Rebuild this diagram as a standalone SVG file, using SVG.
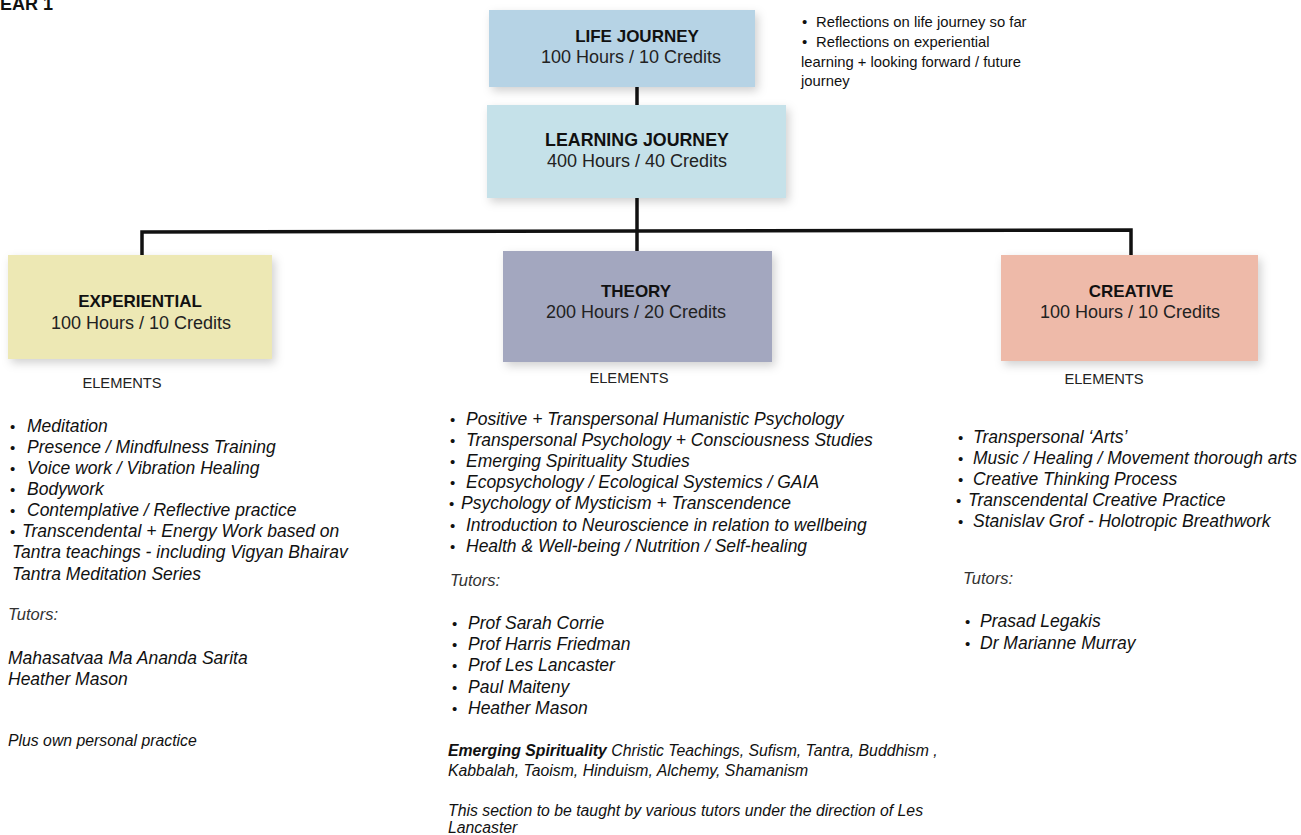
<svg xmlns="http://www.w3.org/2000/svg" width="1301" height="835" viewBox="0 0 1301 835">
<defs>
<filter id="sh" x="-10%" y="-20%" width="125%" height="150%">
<feDropShadow dx="3" dy="4" stdDeviation="5" flood-color="#000" flood-opacity="0.18"/>
</filter>
<style>
.box{filter:url(#sh)}
.h{font-family:"Liberation Sans",Arial,sans-serif;font-weight:bold;font-size:17px;fill:#111;text-anchor:middle}
.s{font-family:"Liberation Sans",Arial,sans-serif;font-size:18px;fill:#222;text-anchor:middle}
.el{font-family:"Liberation Sans",Arial,sans-serif;font-size:14.7px;fill:#222;text-anchor:middle}
.it{font-family:"Liberation Sans",Arial,sans-serif;font-style:italic;font-size:17.5px;fill:#111}
.sm{font-family:"Liberation Sans",Arial,sans-serif;font-style:italic;font-size:15.8px;fill:#111}
.tu{font-family:"Liberation Sans",Arial,sans-serif;font-style:italic;font-size:16.5px;fill:#333}
.note{font-family:"Liberation Sans",Arial,sans-serif;font-size:14.8px;fill:#111}
.b{font-style:normal;font-size:15px}
.ln{stroke:#111;stroke-width:3.5;fill:none}
</style>
</defs>
<rect width="1301" height="835" fill="#fff"/>
<text x="0" y="10" style="font-family:'Liberation Sans',Arial,sans-serif;font-weight:bold;font-size:18px" fill="#111">EAR 1</text>

<g id="connectors">
<line class="ln" x1="637" y1="85" x2="637" y2="108"/>
<line class="ln" x1="637" y1="196" x2="637" y2="253"/>
<polyline class="ln" points="142,258 142,232 1131,230 1131,257"/>
</g>

<g id="life-journey">
<rect class="box" x="489" y="10" width="266" height="77" fill="#b6d3e5"/>
<text class="h" x="637" y="42">LIFE JOURNEY</text>
<text class="s" x="631" y="63">100 Hours / 10 Credits</text>
</g>
<g id="life-notes">
<text class="note" y="27"><tspan class="b" x="802">•</tspan><tspan x="816">Reflections on life journey so far</tspan></text>
<text class="note" y="47"><tspan class="b" x="802">•</tspan><tspan x="816">Reflections on experiential</tspan></text>
<text class="note" x="801" y="67">learning + looking forward / future</text>
<text class="note" x="801" y="86">journey</text>
</g>

<g id="learning-journey">
<rect class="box" x="487" y="105" width="299" height="93" fill="#c5e1e9"/>
<text class="h" x="637" y="146" style="font-size:17.8px">LEARNING JOURNEY</text>
<text class="s" x="637" y="167">400 Hours / 40 Credits</text>
</g>

<g id="experiential">
<rect class="box" x="8" y="255" width="264" height="104" fill="#ede8b4"/>
<text class="h" x="140" y="307">EXPERIENTIAL</text>
<text class="s" x="141" y="329">100 Hours / 10 Credits</text>
<text class="el" x="122" y="388">ELEMENTS</text>
<text class="it" y="432"><tspan class="b" x="10">•</tspan><tspan x="27">Meditation</tspan></text>
<text class="it" y="453"><tspan class="b" x="10">•</tspan><tspan x="27">Presence / Mindfulness Training</tspan></text>
<text class="it" y="474"><tspan class="b" x="10">•</tspan><tspan x="27">Voice work / Vibration Healing</tspan></text>
<text class="it" y="495"><tspan class="b" x="10">•</tspan><tspan x="27">Bodywork</tspan></text>
<text class="it" y="516"><tspan class="b" x="10">•</tspan><tspan x="27">Contemplative / Reflective practice</tspan></text>
<text class="it" y="537"><tspan class="b" x="10">•</tspan><tspan x="22">Transcendental + Energy Work based on</tspan></text>
<text class="it" x="12" y="558">Tantra teachings - including Vigyan Bhairav</text>
<text class="it" x="12" y="580">Tantra Meditation Series</text>
<text class="tu" x="8" y="620">Tutors:</text>
<text class="it" x="8" y="664">Mahasatvaa Ma Ananda Sarita</text>
<text class="it" x="8" y="685">Heather Mason</text>
<text class="sm" x="8" y="746">Plus own personal practice</text>
</g>

<g id="theory">
<rect class="box" x="503" y="251" width="269" height="111" fill="#a3a7bf"/>
<text class="h" x="636" y="297">THEORY</text>
<text class="s" x="636" y="318">200 Hours / 20 Credits</text>
<text class="el" x="629" y="383">ELEMENTS</text>
<text class="it" y="425"><tspan class="b" x="450">•</tspan><tspan x="466">Positive + Transpersonal Humanistic Psychology</tspan></text>
<text class="it" y="446"><tspan class="b" x="450">•</tspan><tspan x="466">Transpersonal Psychology + Consciousness Studies</tspan></text>
<text class="it" y="467"><tspan class="b" x="450">•</tspan><tspan x="466">Emerging Spirituality Studies</tspan></text>
<text class="it" y="488"><tspan class="b" x="450">•</tspan><tspan x="466">Ecopsychology / Ecological Systemics / GAIA</tspan></text>
<text class="it" y="509"><tspan class="b" x="449">•</tspan><tspan x="461">Psychology of Mysticism + Transcendence</tspan></text>
<text class="it" y="531"><tspan class="b" x="450">•</tspan><tspan x="466">Introduction to Neuroscience in relation to wellbeing</tspan></text>
<text class="it" y="552"><tspan class="b" x="450">•</tspan><tspan x="466">Health &amp; Well-being / Nutrition / Self-healing</tspan></text>
<text class="tu" x="450" y="586">Tutors:</text>
<text class="it" y="629"><tspan class="b" x="452">•</tspan><tspan x="468">Prof Sarah Corrie</tspan></text>
<text class="it" y="650"><tspan class="b" x="452">•</tspan><tspan x="468">Prof Harris Friedman</tspan></text>
<text class="it" y="671"><tspan class="b" x="452">•</tspan><tspan x="468">Prof Les Lancaster</tspan></text>
<text class="it" y="693"><tspan class="b" x="452">•</tspan><tspan x="468">Paul Maiteny</tspan></text>
<text class="it" y="714"><tspan class="b" x="452">•</tspan><tspan x="468">Heather Mason</tspan></text>
<text class="sm" x="448" y="756"><tspan font-weight="bold">Emerging Spirituality</tspan> Christic Teachings, Sufism, Tantra, Buddhism ,</text>
<text class="sm" x="448" y="776">Kabbalah, Taoism, Hinduism, Alchemy, Shamanism</text>
<text class="sm" x="448" y="816">This section to be taught by various tutors under the direction of Les</text>
<text class="sm" x="448" y="833">Lancaster</text>
</g>

<g id="creative">
<rect class="box" x="1001" y="255" width="257" height="106" fill="#eebaa9"/>
<text class="h" x="1131" y="297">CREATIVE</text>
<text class="s" x="1130" y="318">100 Hours / 10 Credits</text>
<text class="el" x="1104" y="384">ELEMENTS</text>
<text class="it" y="443"><tspan class="b" x="958">•</tspan><tspan x="973">Transpersonal ‘Arts’</tspan></text>
<text class="it" y="464"><tspan class="b" x="958">•</tspan><tspan x="973">Music / Healing / Movement thorough arts</tspan></text>
<text class="it" y="485"><tspan class="b" x="958">•</tspan><tspan x="973">Creative Thinking Process</tspan></text>
<text class="it" y="506"><tspan class="b" x="956">•</tspan><tspan x="968">Transcendental Creative Practice</tspan></text>
<text class="it" y="527"><tspan class="b" x="958">•</tspan><tspan x="973">Stanislav Grof - Holotropic Breathwork</tspan></text>
<text class="tu" x="963" y="584">Tutors:</text>
<text class="it" y="627"><tspan class="b" x="965">•</tspan><tspan x="980">Prasad Legakis</tspan></text>
<text class="it" y="649"><tspan class="b" x="965">•</tspan><tspan x="980">Dr Marianne Murray</tspan></text>
</g>
</svg>
